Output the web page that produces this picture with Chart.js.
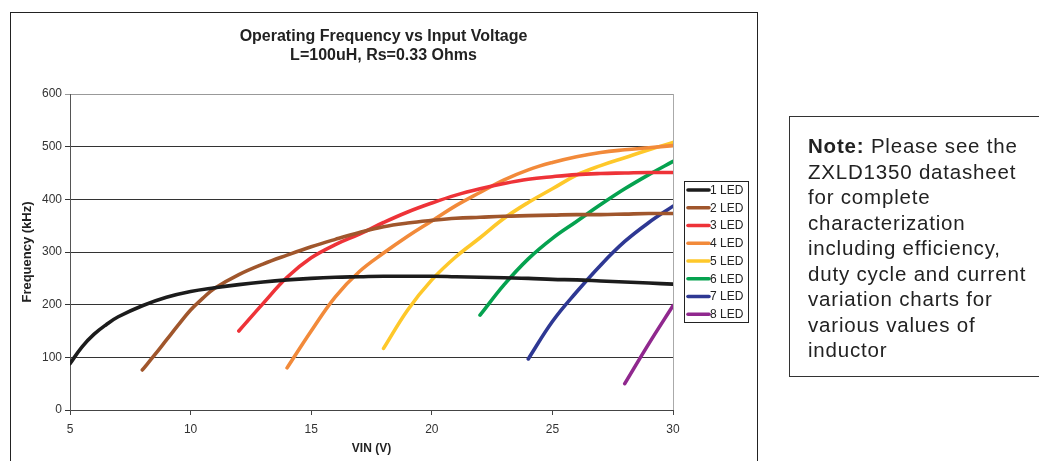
<!DOCTYPE html>
<html>
<head>
<meta charset="utf-8">
<script src="https://cdn.jsdelivr.net/npm/chart.js@4.4.1/dist/chart.umd.min.js"></script>
<style>
  html, body { margin: 0; padding: 0; background: #fff; }
  body { width: 1039px; height: 461px; position: relative; overflow: hidden; }
  #frame { position: absolute; left: 10px; top: 12px; width: 746px; height: 470px; border: 1px solid #222; }
  #chart { position: absolute; left: 0; top: 0; }
  #note {
    position: absolute; left: 789px; top: 116px; width: 270px; height: 261px;
    border: 1px solid #333; box-sizing: border-box;
    font-family: "Liberation Sans", Arial, sans-serif; font-size: 20.5px; line-height: 25.5px;
    letter-spacing: 0.8px; color: #222; padding: 16px 0 0 18px;
  }
</style>
</head>
<body>
<div id="frame"></div>
<canvas id="chart" width="1039" height="461"></canvas>
<div id="note"><b>Note:</b> Please see the<br>ZXLD1350 datasheet<br>for complete<br>characterization<br>including efficiency,<br>duty cycle and current<br>variation charts for<br>various values of<br>inductor</div>
<script>
const seriesNames = ['1 LED', '2 LED', '3 LED', '4 LED', '5 LED', '6 LED', '7 LED', '8 LED']
const seriesColors = ['#1c1c1c', '#a0562c', '#ee3338', '#f28a3a', '#fec82a', '#05a24f', '#2e3893', '#90288e']

// VIN (V) and frequency (kHz) for each LED count
const vin1 = [5, 5.5, 6, 6.5, 7, 8, 9, 10, 11, 12, 13, 14, 15, 16, 17, 18, 19, 20, 21, 22, 23, 24, 25, 26, 27, 28, 29, 30]
const led1 = [88, 120, 144, 162, 177, 198, 214, 225, 232, 238, 243, 247, 250, 252, 253, 254, 254, 254, 253, 252, 251, 250, 248, 247, 245, 243, 241, 239]
const vin2 = [8, 8.5, 9, 9.5, 10, 10.5, 11, 12, 13, 14, 15, 16, 17, 18, 19, 20, 21, 22, 23, 24, 25, 26, 27, 28, 29, 30]
const led2 = [76, 104, 133, 162, 190, 212, 231, 257, 277, 294, 310, 324, 337, 348, 355, 360, 364, 366, 368, 369, 370, 371, 371, 372, 373, 373]
const vin3 = [12, 13, 14, 15, 16, 17, 18, 19, 20, 21, 22, 23, 24, 25, 26, 27, 28, 29, 30]
const led3 = [150, 202, 252, 289, 314, 334, 356, 376, 393, 408, 420, 430, 438, 443, 447, 449, 450, 451, 451]
const vin4 = [14, 15, 16, 17, 18, 19, 20, 21, 22, 23, 24, 25, 26, 27, 28, 29, 30]
const led4 = [80, 150, 215, 263, 298, 330, 359, 388, 413, 437, 456, 470, 481, 489, 494, 498, 502]
const vin5 = [18, 19, 20, 21, 22, 23, 24, 25, 26, 27, 28, 29, 30]
const led5 = [117, 190, 247, 291, 327, 364, 394, 420, 446, 464, 479, 494, 508]
const vin6 = [22, 23, 24, 25, 26, 27, 28, 29, 30]
const led6 = [180, 238, 287, 326, 358, 390, 420, 447, 472]
const vin7 = [24, 25, 26, 27, 28, 29, 30]
const led7 = [97, 168, 224, 275, 320, 356, 387]
const vin8 = [28, 29, 30]
const led8 = [50, 126, 198]

const vins = [vin1, vin2, vin3, vin4, vin5, vin6, vin7, vin8]
const freqs = [led1, led2, led3, led4, led5, led6, led7, led8]

const xMin = 5, xMax = 30, xStep = 5
const yMin = 0, yMax = 600, yStep = 100

const datasets = freqs.map((f, k) => ({
    label: seriesNames[k],
    data: f.map((y, i) => ({x: vins[k][i], y: y})),
    borderColor: seriesColors[k],
    backgroundColor: seriesColors[k],
    borderWidth: 3.6,
    borderCapStyle: 'round',
    borderJoinStyle: 'round',
    pointRadius: 0,
    tension: 0.4,
    fill: false
}))

// boxed legend on the right, like the spreadsheet one
const boxLegend = {
    id: 'boxLegend',
    afterDraw(chart) {
        const ctx = chart.ctx
        const left = 684.5, top = 181.5, w = 64, h = 141
        ctx.save()
        ctx.fillStyle = '#fff'
        ctx.fillRect(left, top, w, h)
        ctx.strokeStyle = '#222'
        ctx.lineWidth = 1
        ctx.strokeRect(left, top, w, h)
        ctx.font = '12px "Liberation Sans", Arial, sans-serif'
        ctx.textBaseline = 'middle'
        chart.data.datasets.forEach((ds, i) => {
            const y = 190 + i * 17.75
            ctx.strokeStyle = ds.borderColor
            ctx.lineWidth = 3.6
            ctx.lineCap = 'round'
            ctx.beginPath()
            ctx.moveTo(688, y)
            ctx.lineTo(709, y)
            ctx.stroke()
            ctx.fillStyle = '#222'
            ctx.fillText(ds.label, 710, y + 0.5)
        })
        ctx.restore()
    }
}

// light grey right edge of the plot area
const plotEdge = {
    id: 'plotEdge',
    beforeDatasetsDraw(chart) {
        const a = chart.chartArea, ctx = chart.ctx
        ctx.save()
        ctx.strokeStyle = '#aaa'
        ctx.lineWidth = 1
        ctx.beginPath()
        ctx.moveTo(a.right + 0.5, a.top)
        ctx.lineTo(a.right + 0.5, a.bottom)
        ctx.stroke()
        ctx.restore()
    }
}

const fontFamily = '"Liberation Sans", Arial, sans-serif'
const tickFont = {family: fontFamily, size: 12}

new Chart(document.getElementById('chart'), {
    type: 'line',
    data: {datasets: datasets},
    plugins: [plotEdge, boxLegend],
    options: {
        responsive: false,
        animation: false,
        devicePixelRatio: 1,
        layout: {padding: {left: 10, top: 0, right: 282, bottom: 0}},
        scales: {
            x: {
                type: 'linear',
                min: xMin,
                max: xMax,
                ticks: {stepSize: xStep, color: '#333', font: tickFont, padding: 7, maxRotation: 0},
                grid: {drawOnChartArea: false, drawTicks: true, tickLength: 5, color: '#444'},
                border: {color: '#444', width: 1},
                title: {display: true, text: 'VIN (V)', color: '#222', font: {family: fontFamily, size: 12, weight: 'bold'}, padding: {top: 5, bottom: 5}},
                afterFit(scale) { scale.height = 51 }
            },
            y: {
                min: yMin,
                max: yMax,
                ticks: {stepSize: yStep, color: '#333', font: tickFont, padding: 3},
                grid: {
                    tickLength: 5,
                    color: ctx => ctx.tick && ctx.tick.value === yMax ? '#999' : '#333'
                },
                border: {color: '#555', width: 1},
                title: {display: true, text: 'Frequency (kHz)', color: '#222', font: {family: fontFamily, size: 13, weight: 'bold'}, padding: {top: 10, bottom: 0}},
                afterFit(scale) { scale.width = 60 }
            },
            // empty strip that holds the legend, so the title centres on the whole frame
            legendSpace: {
                position: 'right',
                display: true,
                ticks: {display: false},
                grid: {display: false},
                border: {display: false},
                afterFit(scale) { scale.width = 84 }
            }
        },
        plugins: {
            legend: {display: false},
            tooltip: {enabled: false},
            title: {
                display: true,
                text: ['Operating Frequency vs Input Voltage', 'L=100uH, Rs=0.33 Ohms'],
                color: '#222',
                font: {family: fontFamily, size: 16, weight: 'bold', lineHeight: 1.1875},
                padding: {top: 27, bottom: 29}
            }
        }
    }
});
</script>
</body>
</html>
